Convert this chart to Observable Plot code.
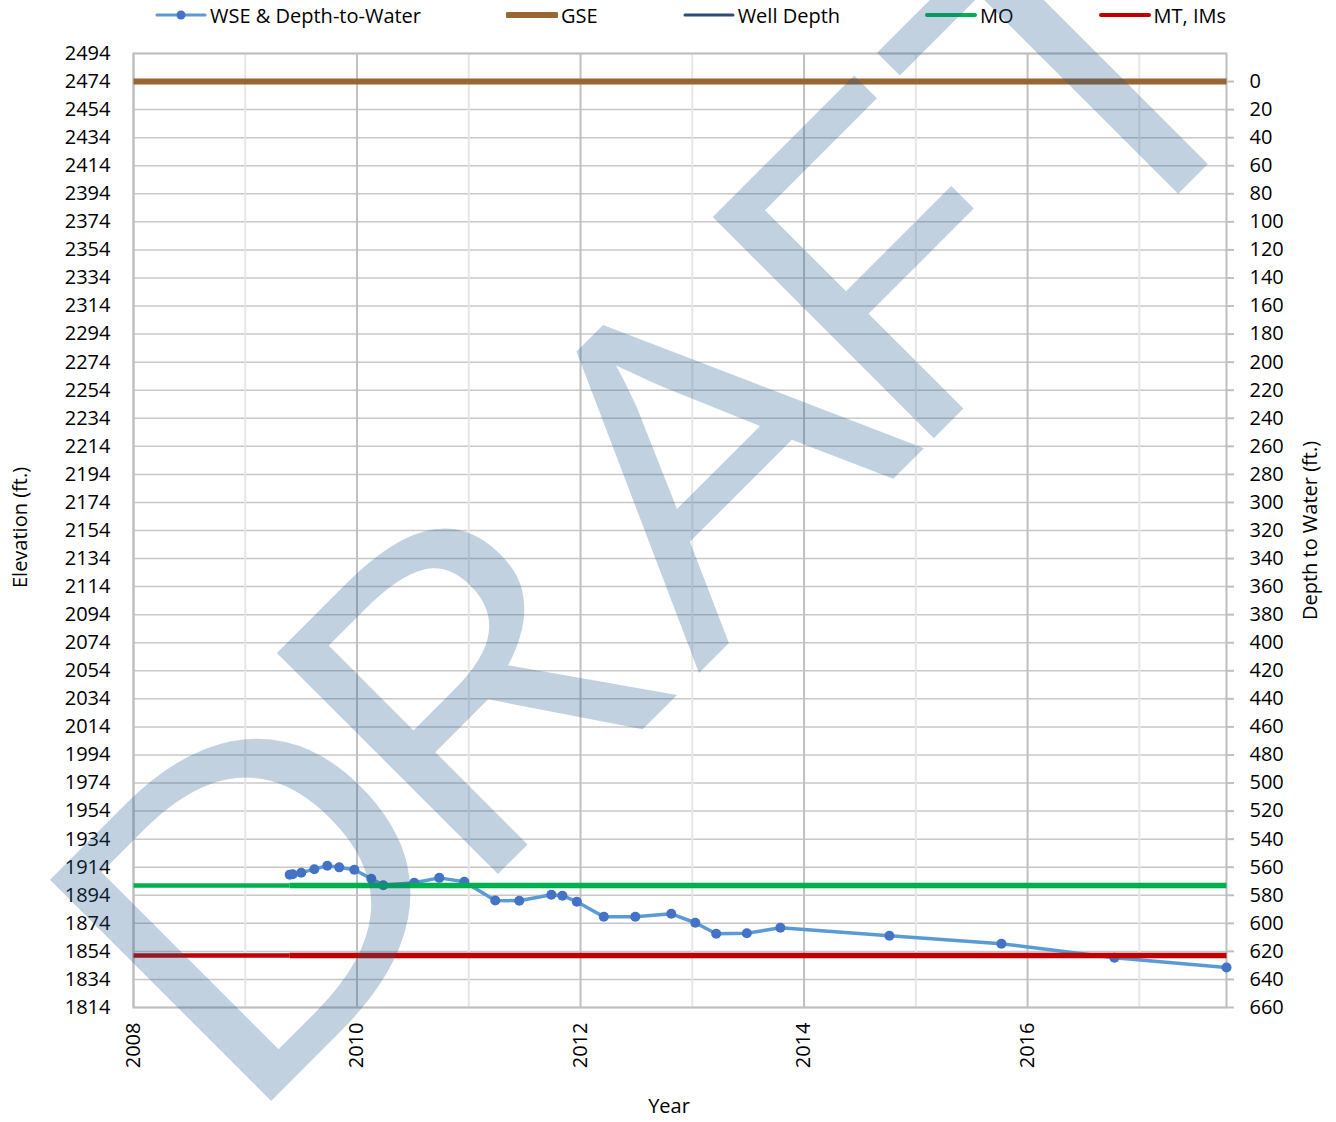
<!DOCTYPE html>
<html>
<head>
<meta charset="utf-8">
<script src="https://cdn.jsdelivr.net/npm/d3@7"></script>
<script src="https://cdn.jsdelivr.net/npm/@observablehq/plot@0.6"></script>
<style>
  body { margin: 0; background: #fff; font-family: "Open Sans", sans-serif; }
  #wrap { position: relative; width: 1336px; height: 1122px; overflow: hidden; }
  #legend { height: 30px; display: flex; align-items: center; gap: 85px; padding-left: 155px; font-size: 20px; color: #000; }
  .item { display: flex; align-items: center; white-space: nowrap; }
  .item svg { margin-right: 3px; }
  #wm { position: absolute; left: 0; top: 0; pointer-events: none; }
</style>
</head>
<body>
<div id="wrap">
  <div id="legend"></div>
  <div id="chart"></div>
</div>
<script>
// ---- data ----
const sampleYears = [2009.398, 2009.425, 2009.501, 2009.618, 2009.734, 2009.841, 2009.976, 2010.128, 2010.235, 2010.512, 2010.736, 2010.960, 2011.237, 2011.452, 2011.739, 2011.838, 2011.967, 2012.208, 2012.490, 2012.812, 2013.027, 2013.214, 2013.488, 2013.788, 2014.764, 2015.766, 2016.777, 2017.780];
const wseValues = [1908.7, 1909.0, 1910.1, 1912.6, 1915.1, 1913.9, 1912.2, 1905.8, 1901.2, 1902.9, 1906.4, 1903.6, 1890.3, 1890.1, 1894.4, 1893.7, 1889.4, 1878.7, 1878.7, 1880.8, 1874.4, 1866.6, 1866.9, 1870.8, 1865.1, 1859.5, 1849.5, 1842.5];
const gseElevation = 2474;
const moElevation = 1901;
const mtElevation = 1851;
const xDomain = [2008, 2017.78];
const yDomain = [1814, 2494];
const elevationTicks = d3.range(1814, 2495, 20);
const depthTicks = d3.range(0, 661, 20);
const yearTicks = [2008, 2010, 2012, 2014, 2016];
const minorYearTicks = [2009, 2011, 2013, 2015, 2017];
const legendLabels = ["WSE & Depth-to-Water", "GSE", "Well Depth", "MO", "MT, IMs"];
const axisTitles = ["Elevation (ft.)", "Depth to Water (ft.)", "Year"];
const watermarkText = "DRAFT";

// ---- colours ----
const cLine = "#5b9bd5", cDot = "#4472c4", cGse = "#996633", cWell = "#2f4b7c", cMo = "#00b050", cMt = "#c00000";

// ---- derived tables ----
const wse = sampleYears.map((x, i) => ({x, y: wseValues[i]}));
const seg = (a, b, y) => [{x: a, y}, {x: b, y}];
const first = sampleYears[0];

// ---- legend ----
const legendSpecs = [
  {label: legendLabels[0], color: cLine, w: 3, dot: cDot},
  {label: legendLabels[1], color: cGse, w: 6},
  {label: legendLabels[2], color: cWell, w: 3},
  {label: legendLabels[3], color: cMo, w: 4},
  {label: legendLabels[4], color: cMt, w: 4}
];
const legend = d3.select("#legend");
for (const s of legendSpecs) {
  const it = legend.append("div").attr("class", "item");
  const sv = it.append("svg").attr("width", 52).attr("height", 20);
  sv.append("line").attr("x1", 2).attr("x2", 50).attr("y1", 10).attr("y2", 10)
    .attr("stroke", s.color).attr("stroke-width", s.w).attr("stroke-linecap", "round");
  if (s.dot) sv.append("circle").attr("cx", 26).attr("cy", 10).attr("r", 4.5).attr("fill", s.dot);
  it.append("span").text(s.label);
}

// ---- chart ----
const chart = Plot.plot({
  width: 1336,
  height: 1092,
  marginLeft: 133,
  marginRight: 110,
  marginTop: 23,
  marginBottom: 115,
  style: {fontFamily: "'Open Sans', sans-serif", fontSize: "20px", color: "#000", background: "#fff", overflow: "visible"},
  x: {domain: xDomain},
  y: {domain: yDomain},
  marks: [
    Plot.gridY(elevationTicks, {stroke: "#c8c8c8", strokeOpacity: 1, strokeWidth: 1.5}),
    Plot.gridX(minorYearTicks, {stroke: "#e6e6e6", strokeOpacity: 1, strokeWidth: 2}),
    Plot.gridX(yearTicks, {stroke: "#c0c0c0", strokeOpacity: 1, strokeWidth: 2}),
    Plot.frame({stroke: "#bfbfbf", strokeWidth: 2}),
    Plot.axisY(elevationTicks, {anchor: "left", tickSize: 0, tickPadding: 23, tickFormat: d => String(d), label: null}),
    Plot.axisY(depthTicks.map(d => gseElevation - d), {anchor: "right", tickSize: 7, tickPadding: 16, stroke: "#bfbfbf", strokeWidth: 2, fill: "#000", tickFormat: d => String(gseElevation - d), label: null}),
    Plot.axisX(yearTicks, {anchor: "bottom", tickSize: 0, tickPadding: 15, tickRotate: -90, tickFormat: d => String(d), label: null}),
    Plot.text([axisTitles[0]], {text: d => d, frameAnchor: "left", textAnchor: "middle", rotate: -90, dx: -113, dy: -3, fontSize: 20}),
    Plot.text([axisTitles[1]], {text: d => d, frameAnchor: "right", textAnchor: "middle", rotate: -90, dx: 84, fontSize: 20}),
    Plot.text([axisTitles[2]], {text: d => d, frameAnchor: "bottom", dx: -11, dy: 105, fontSize: 20}),
    // data series
    Plot.line(wse, {x: "x", y: "y", stroke: cLine, strokeWidth: 3.5}),
    Plot.dot(wse, {x: "x", y: "y", r: 5, fill: cDot}),
    Plot.line(seg(xDomain[0], xDomain[1], gseElevation), {x: "x", y: "y", stroke: cGse, strokeWidth: 6, strokeLinecap: "butt"}),
    Plot.line(seg(xDomain[0], first, moElevation), {x: "x", y: "y", stroke: cMo, strokeWidth: 4.5, strokeLinecap: "butt"}),
    Plot.line(seg(first, xDomain[1], moElevation), {x: "x", y: "y", stroke: cMo, strokeWidth: 5.5, strokeLinecap: "butt"}),
    Plot.line(seg(xDomain[0], first, mtElevation), {x: "x", y: "y", stroke: cMt, strokeWidth: 4.5, strokeLinecap: "butt"}),
    Plot.line(seg(first, xDomain[1], mtElevation), {x: "x", y: "y", stroke: cMt, strokeWidth: 5.5, strokeLinecap: "butt"})
  ]
});
document.getElementById("chart").appendChild(chart);

// ---- DRAFT watermark overlay ----
const wm = d3.select("#wrap").append("svg").attr("id", "wm").attr("width", 1336).attr("height", 1122);
wm.append("text")
  .attr("transform", "translate(686,686) rotate(-45) scale(1.15,1)")
  .attr("x", "-553 -274 16 262 503")
  .attr("text-anchor", "start")
  .attr("font-family", "'Open Sans', sans-serif")
  .attr("font-size", 438)
  .attr("fill", "#1f5a8c")
  .attr("fill-opacity", 0.28)
  .text(watermarkText);
</script>
</body>
</html>
